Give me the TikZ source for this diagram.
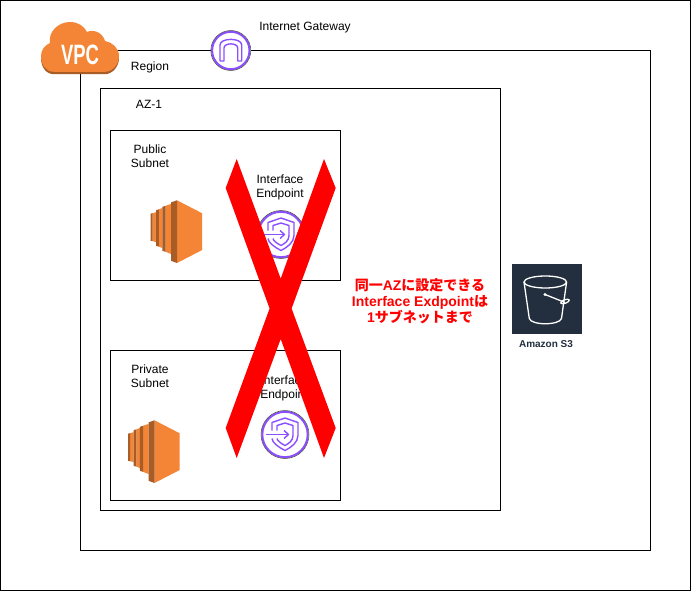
\documentclass[tikz,border=0pt]{standalone}
\usepackage{fontspec}
\setmainfont{Liberation Sans}
\newfontfamily\cjk{Noto Sans CJK JP}
\usepackage{xcolor}
\definecolor{vpcorange}{RGB}{245, 133, 54}
\definecolor{vpcbrown}{RGB}{168, 92, 38}
\definecolor{awspurple}{RGB}{140, 79, 255}
\definecolor{awsnavy}{RGB}{35, 47, 62}
\usepackage{tikz}
\usetikzlibrary{positioning}
\newcommand{\jp}[1]{{\cjk #1}}
\newcommand{\ectwo}[2]{%
  \begin{scope}[shift={(#1,#2)}]
    \fill[vpcorange] (2.2,13.2) -- (5.5,12.2) -- (5.5,42) -- (2.2,41.2) -- cycle;
    \fill[vpcbrown] (0,13.6) -- (2.2,13.2) -- (2.2,41.2) -- (0,40.8) -- cycle;
    \fill[vpcorange] (8.3,9.4) -- (11.8,8) -- (11.8,48) -- (8.3,46.6) -- cycle;
    \fill[vpcbrown] (5.5,10.2) -- (8.3,9.4) -- (8.3,46.6) -- (5.5,45.8) -- cycle;
    \fill[vpcorange] (15,5.8) -- (20.5,4) -- (20.5,54) -- (15,51.8) -- cycle;
    \fill[vpcbrown] (11.8,6.8) -- (15,5.8) -- (15,51.8) -- (11.8,50.8) -- cycle;
    \fill[vpcorange] (26.5,0.3) -- (51.7,13.3) -- (51.7,50) -- (26.5,63) -- cycle;
    \fill[vpcbrown] (20.5,2.4) -- (26.5,0.3) -- (26.5,63) -- (20.5,60.8) -- cycle;
  \end{scope}}
\newcommand{\epicon}[3]{%
  \node[iconring=48] (#3) at (#1,#2) {};
  \begin{scope}[shift={(#1,#2)}, glyph]
    \draw (-13,-4) -- (-13,-12) -- (0,-16.5) -- (13,-12) -- (13,1) .. controls (13,8) and (6,13) .. (0,16) .. controls (-6,13) and (-13,8) .. (-13,4);
    \draw (-8,-4) -- (-8,-9) -- (0,-11.5) -- (8,-9) -- (8,1) .. controls (8,6) and (4,9) .. (0,11) .. controls (-4,9) and (-8,6) .. (-8,4);
    \draw (-19,0) -- (3,0);
    \draw (-1,-4) -- (3.5,0) -- (-1,4);
  \end{scope}}
\begin{document}
\begin{tikzpicture}[x=1pt, y=-1pt, line width=1pt,
        box/.style={rectangle, draw=black, fill=white, inner sep=0pt, outer sep=0pt},
        lbl/.style={align=center, inner sep=0pt, font=\fontsize{12}{14}\selectfont},
        iconring/.style={circle, draw=black!75, line width=0.5pt, fill=white, inner sep=0pt, minimum size=#1pt, path picture={\draw[awspurple, line width=2pt] (path picture bounding box.center) circle ({#1/2-1.3});}},
        glyph/.style={draw=awspurple, line width=1.4pt, line join=round}]

        \useasboundingbox (0,0) rectangle (691,591);
        \node [box, minimum width=690pt, minimum height=590pt] (page) at (345.5,295.5) {};
        \node [box, minimum width=570pt, minimum height=500pt] (region) at (365.5,300.5) {};
        \node [box, minimum width=400pt, minimum height=422pt] (az) at (300.5,299.5) {};
        \node [box, minimum width=230pt, minimum height=150pt] (pubnet) at (225.5,205.5) {};
        \node [box, minimum width=230pt, minimum height=150pt, below=70pt of pubnet] (privnet) {};

        \node [lbl] (regiontext) at (150,67) {Region};
        \node [lbl] (aztext) at (149,104) {AZ-1};
        \node [lbl] (igwtext) at (305,27.5) {Internet Gateway};
        \node [lbl] (pubtext) at (150,156.5) {Public\\Subnet};
        \node [lbl] (privtext) at (150,376) {Private\\Subnet};
        \node [lbl] (pubeptext) at (280,187) {Interface\\Endpoint};
        \node [lbl] (priveptext) at (284,388) {Interface\\Endpoint};

        % cloud
        \fill[vpcbrown] (54,74.2) .. controls (46,74.2) and (41,67) .. (41,58) -- (119,58) .. controls (119,67) and (112,74.2) .. (105,74.2) -- cycle;
        \fill[vpcorange] (54,71.8) .. controls (46,71.8) and (41,65) .. (41,56) .. controls (41,50) and (45,45) .. (50,43) .. controls (48,32) and (58,22) .. (70,22) .. controls (78,22) and (84,26) .. (87,32) .. controls (92,29.5) and (102,31) .. (105,41) .. controls (112,42) and (119,48) .. (119,56) .. controls (119,65) and (112,71.8) .. (105,71.8) -- cycle;
        \node [inner sep=0pt, transform shape, xscale=0.66, text=white, font=\fontsize{28}{28}\selectfont\bfseries] (vpc) at (80,55) {VPC};

        % gateway
        \node [iconring=40] (igw) at (230.8,50.5) {};
        \draw[glyph] (220,61) -- (224,61) -- (224,48) .. controls (224,42.5) and (237.7,42.5) .. (237.7,48) -- (237.7,61) -- (241.7,61) -- (241.7,45) .. controls (241.7,37.5) and (220,37.5) .. (220,45) -- cycle;

        \ectwo{150.5}{200}
        \ectwo{128}{420}
        \epicon{281}{234.5}{pubep}
        \epicon{285}{434.5}{privep}

        % red cross
        \fill[red] (236.7,159) -- (280.7,278.6) -- (324,159) -- (335.7,188) -- (291.6,308.5) -- (335.7,428) -- (324,458) -- (280.7,339) -- (236.7,458) -- (225.7,428) -- (269.6,308.5) -- (225.7,188) -- cycle;

        \node [lbl, text=red, font=\fontsize{14}{16}\selectfont\bfseries] (note) at (420,301) {\jp{同一}AZ\jp{に設定できる}\\Interface Exdpoint\jp{は}\\1\jp{サブネットまで}};

        % bucket
        \node [rectangle, fill=awsnavy, minimum size=70pt, inner sep=0pt] (s3) at (547,299) {};
        \begin{scope}[draw=white, line width=1.3pt, line join=round]
            \draw (545.3,282) ellipse (21.3pt and 6pt);
            \draw (524,282) -- (529.3,318.5) .. controls (531,325.5) and (559.5,325.5) .. (561.5,318.5) -- (566.6,282);
            \draw (545,294.5) -- (565,302.5);
            \draw[rotate around={20:(565,301.5)}] (565,301.5) ellipse (4.5pt and 1.8pt);
        \end{scope}
        \fill[white] (545,294.5) circle (1.7pt);
        \node [inner sep=0pt, text=awsnavy, font=\fontsize{10}{12}\selectfont\bfseries] (s3text) at (546,344) {Amazon S3};
    \end{tikzpicture}
\end{document}
